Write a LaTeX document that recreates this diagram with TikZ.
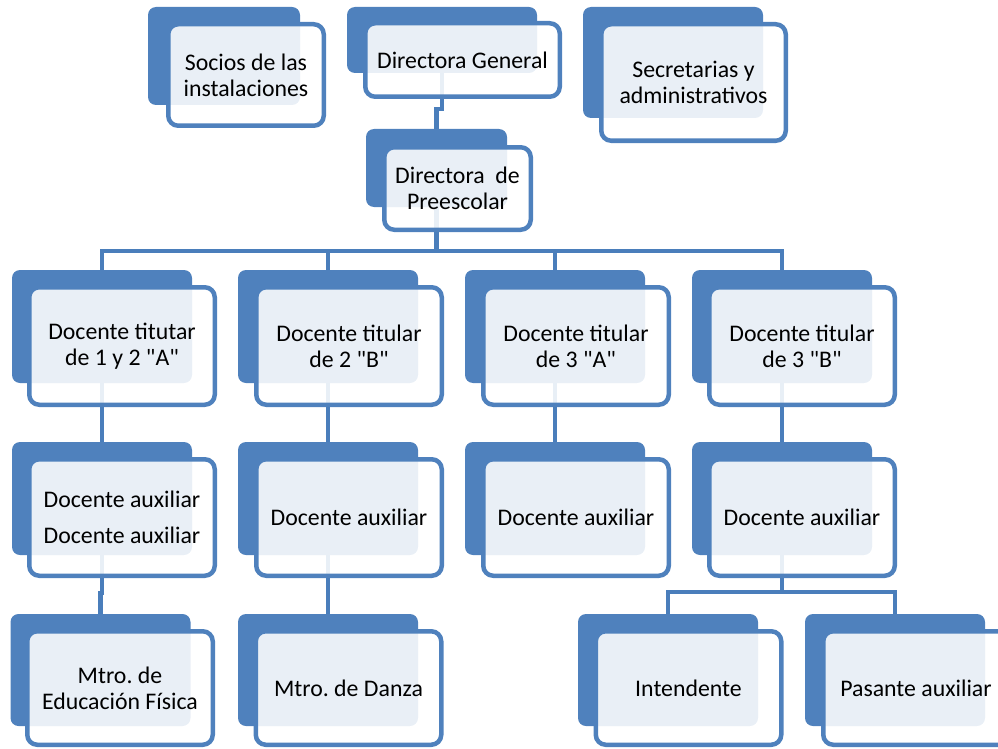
\documentclass[tikz,border=0pt]{standalone}
\usepackage{fontspec}
\setmainfont{Carlito}
\newfontfamily\calib{Carlito}
\frenchspacing
\definecolor{oblue}{HTML}{4F81BD}
\definecolor{lblue}{HTML}{4A7EBB}
\pgfdeclarelayer{bg}
\pgfsetlayers{bg,main}
\tikzset{
  backbox/.style={fill=oblue, draw=none, rounded corners=8pt, inner sep=0pt},
  frontbox/.style={draw=oblue, line width=4.5pt, fill=white, fill opacity=0.88, text opacity=1,
    rounded corners=10pt, inner sep=0pt, align=center, text=black,
    font=\calib\frenchspacing\fontsize{23.8}{26}\selectfont},
  conn/.style={draw=lblue, line width=4.5pt, line cap=rect},
}
\begin{document}
\begin{tikzpicture}[x=1pt,y=-1pt]
\useasboundingbox (0,0) rectangle (998,749);
\clip (0,0) rectangle (998,749);
% top row
\node[backbox, minimum width=152pt, minimum height=98pt] (soc) at (224,56) {};
\node[frontbox, minimum width=155.5pt, minimum height=101.5pt] (socf) at (246,75) {Socios de las\\instalaciones};
\node[backbox, minimum width=190pt, minimum height=66pt] (dg) at (442,40) {};
\node[frontbox, minimum width=194.5pt, minimum height=73.5pt] (dgf) at (462.5,60) {Directora General};
\node[backbox, minimum width=180pt, minimum height=111pt] (sec) at (673,62.5) {};
\node[frontbox, minimum width=184.5pt, minimum height=116.5pt] (secf) at (693.5,82.5) {Secretarias y\\administrativos};
\node[backbox, minimum width=141pt, minimum height=78pt] (pre) at (436.5,168) {};
\node[frontbox, minimum width=146.5pt, minimum height=82.5pt] (pref) at (457.5,188.5) {Directora\ \ de\\Preescolar};
% level 2
\node[backbox, minimum width=180pt, minimum height=113pt] (t1) at (102,326.5) {};
\node[frontbox, minimum width=185.5pt, minimum height=117.5pt] (t1f) at (122,346) {Docente titutar\\de 1 y 2 "A"};
\node[backbox, minimum width=180pt, minimum height=113pt] (t2) at (328,326.5) {};
\node[frontbox, minimum width=185.5pt, minimum height=117.5pt] (t2f) at (349,346) {Docente titular\\de 2 "B"};
\node[backbox, minimum width=180pt, minimum height=113pt] (t3) at (555,326.5) {};
\node[frontbox, minimum width=185.5pt, minimum height=117.5pt] (t3f) at (576,346) {Docente titular\\de 3 "A"};
\node[backbox, minimum width=180pt, minimum height=113pt] (t4) at (782,326.5) {};
\node[frontbox, minimum width=185.5pt, minimum height=117.5pt] (t4f) at (802,346) {Docente titular\\de 3 "B"};
% level 3
\node[backbox, minimum width=180pt, minimum height=113pt] (a1) at (102,498.5) {};
\node[frontbox, minimum width=185.5pt, minimum height=116.5pt] (a1f) at (122,517.5) {Docente auxiliar\\[10pt]Docente auxiliar};
\node[backbox, minimum width=180pt, minimum height=113pt] (a2) at (328,498.5) {};
\node[frontbox, minimum width=185.5pt, minimum height=116.5pt] (a2f) at (349,517.5) {Docente auxiliar};
\node[backbox, minimum width=180pt, minimum height=113pt] (a3) at (555,498.5) {};
\node[frontbox, minimum width=185.5pt, minimum height=116.5pt] (a3f) at (576,517.5) {Docente auxiliar};
\node[backbox, minimum width=180pt, minimum height=113pt] (a4) at (782,498.5) {};
\node[frontbox, minimum width=185.5pt, minimum height=116.5pt] (a4f) at (802,517.5) {Docente auxiliar};
% level 4
\node[backbox, minimum width=180pt, minimum height=112pt] (m1) at (100.5,670) {};
\node[frontbox, minimum width=185.5pt, minimum height=113.5pt] (m1f) at (120,688) {Mtro.\ de\\Educación Física};
\node[backbox, minimum width=180pt, minimum height=112pt] (m2) at (328,670) {};
\node[frontbox, minimum width=185.5pt, minimum height=113.5pt] (m2f) at (348.5,688) {Mtro.\ de Danza};
\node[backbox, minimum width=180pt, minimum height=112pt] (m3) at (668,670) {};
\node[frontbox, minimum width=185.5pt, minimum height=113.5pt] (m3f) at (688.5,688) {Intendente};
\node[backbox, minimum width=180pt, minimum height=112pt] (m4) at (895,670) {};
\node[frontbox, minimum width=185.5pt, minimum height=113.5pt] (m4f) at (916,688) {Pasante auxiliar};
% connectors
\begin{pgfonlayer}{bg}
\coordinate (bar) at (436.5,251);
\coordinate (bar2) at (782,592);
\draw[conn] (dg.south) -- ++(0,36) -| (pre.north);
\draw[conn] (pre.south) -- (bar);
\draw[conn] (t1.north) -- (t1.north |- bar) -- (t4.north |- bar) -- (t4.north);
\draw[conn] (t2.north) -- (t2.north |- bar);
\draw[conn] (t3.north) -- (t3.north |- bar);
\draw[conn] (t1.south) -- (a1.north);
\draw[conn] (t2.south) -- (a2.north);
\draw[conn] (t3.south) -- (a3.north);
\draw[conn] (t4.south) -- (a4.north);
\draw[conn] (a1.south) -- ++(0,38) -| (m1.north);
\draw[conn] (a2.south) -- (m2.north);
\draw[conn] (a4.south) -- (bar2);
\draw[conn] (m3.north) -- (m3.north |- bar2) -- (m4.north |- bar2) -- (m4.north);
\end{pgfonlayer}
\end{tikzpicture}
\end{document}
